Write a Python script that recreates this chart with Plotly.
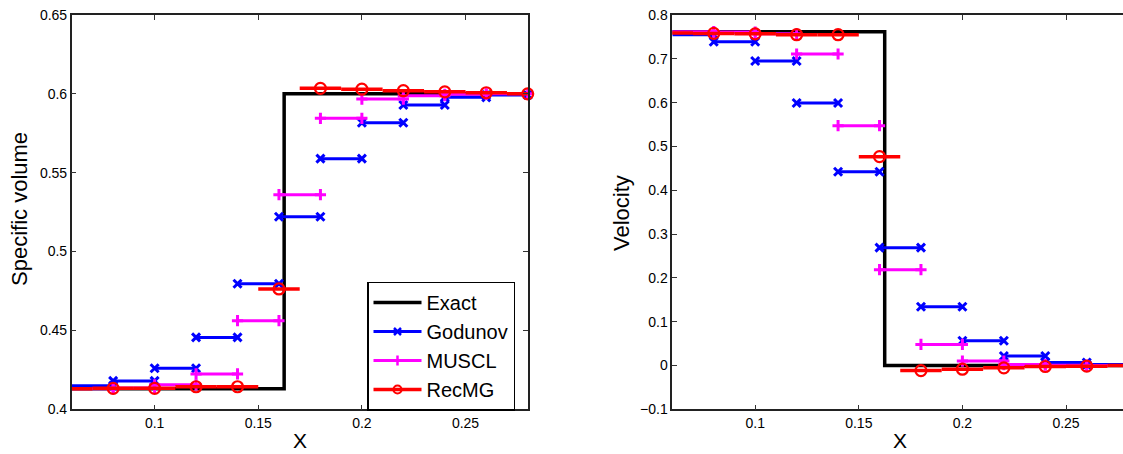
import plotly.graph_objects as go

# ---------------- data ----------------
cell_width = 0.02
# left nodes of the Godunov / MUSCL cells (value held on [node, node+width])
cell_left = [0.06, 0.08, 0.10, 0.12, 0.14, 0.16, 0.18, 0.20, 0.22, 0.24, 0.26]
# centers of RecMG cells (value held on [c-w/2, c+w/2], marker at center)
rec_centers = [0.06, 0.08, 0.10, 0.12, 0.14, 0.16, 0.18, 0.20, 0.22, 0.24, 0.26, 0.28]

exact_x = [0.06, 0.1625, 0.1625, 0.28]
exact_sv = [0.413, 0.413, 0.600, 0.600]
exact_u = [0.762, 0.762, 0.0, 0.0]

godunov_sv = [0.415, 0.418, 0.426, 0.4456, 0.4796, 0.5221, 0.5589, 0.5817, 0.5929, 0.5978, 0.5993]
muscl_sv = [0.413, 0.4135, 0.4155, 0.4224, 0.4562, 0.5361, 0.5845, 0.5967, 0.5988, 0.5997, 0.600]
recmg_sv = [0.413, 0.4133, 0.4133, 0.4143, 0.4143, 0.4763, 0.6035, 0.6030, 0.6020, 0.6013, 0.6007, 0.600]

godunov_u = [0.755, 0.739, 0.695, 0.599, 0.4423, 0.2689, 0.1342, 0.0565, 0.0216, 0.0068, 0.002]
muscl_u = [0.762, 0.761, 0.757, 0.711, 0.5474, 0.2186, 0.0481, 0.0101, 0.002, 0.0005, 0.0]
recmg_u = [0.759, 0.758, 0.757, 0.755, 0.755, 0.4766, -0.0116, -0.0085, -0.0053, -0.0023, -0.0015, 0.0]

x_tickvals = [0.1, 0.15, 0.2, 0.25]
x_ticktext = ["0.1", "0.15", "0.2", "0.25"]
sv_tickvals = [0.4, 0.45, 0.5, 0.55, 0.6, 0.65]
sv_ticktext = ["0.4", "0.45", "0.5", "0.55", "0.6", "0.65"]
u_tickvals = [-0.1, 0, 0.1, 0.2, 0.3, 0.4, 0.5, 0.6, 0.7, 0.8]
u_ticktext = ["\u22120.1", "0", "0.1", "0.2", "0.3", "0.4", "0.5", "0.6", "0.7", "0.8"]

# ---------------- helpers ----------------
FONT = "Liberation Sans, Arial, Helvetica, sans-serif"
BLUE, MAG, RED = "rgb(0,0,255)", "rgb(255,0,255)", "rgb(255,0,0)"
X_MIN = 0.06


def left_segments(lefts, vals, w):
    xs, ys, mx, my = [], [], [], []
    for l, v in zip(lefts, vals):
        xs += [l, l + w, None]
        ys += [v, v, None]
        for p in (l, l + w):
            if p > X_MIN + 1e-9:
                mx.append(p)
                my.append(v)
    return xs, ys, mx, my


def centered_segments(cs, vals, w):
    xs, ys, mx, my = [], [], [], []
    for c, v in zip(cs, vals):
        xs += [c - w / 2, c + w / 2, None]
        ys += [v, v, None]
        if c > X_MIN + 1e-9:
            mx.append(c)
            my.append(v)
    return xs, ys, mx, my


fig = go.Figure()

panels = [
    ("x", "y", exact_sv, godunov_sv, muscl_sv, recmg_sv, True),
    ("x2", "y2", exact_u, godunov_u, muscl_u, recmg_u, False),
]

for xa, ya, ex, gd, mu, rc, show in panels:
    fig.add_trace(go.Scatter(x=exact_x, y=ex, mode="lines", xaxis=xa, yaxis=ya,
                             line=dict(color="black", width=3.5), name="Exact",
                             showlegend=show, legendgroup="exact"))
    for vals, color, sym, name in ((gd, BLUE, "x-thin", "Godunov"),
                                   (mu, MAG, "cross-thin", "MUSCL")):
        xs, ys, mx, my = left_segments(cell_left, vals, cell_width)
        fig.add_trace(go.Scatter(x=xs, y=ys, mode="lines", xaxis=xa, yaxis=ya,
                                 line=dict(color=color, width=3), showlegend=False,
                                 legendgroup=name, name=name))
        fig.add_trace(go.Scatter(x=mx, y=my, mode="markers", xaxis=xa, yaxis=ya,
                                 marker=dict(symbol=sym, size=8, color=color,
                                             line=dict(color=color, width=3)),
                                 cliponaxis=False, showlegend=False,
                                 legendgroup=name, name=name))
        if show:
            fig.add_trace(go.Scatter(x=[None], y=[None], mode="lines+markers",
                                     xaxis=xa, yaxis=ya, name=name, legendgroup=name,
                                     line=dict(color=color, width=3),
                                     marker=dict(symbol=sym, size=7, color=color,
                                                 line=dict(color=color, width=2.5))))
    xs, ys, mx, my = centered_segments(rec_centers, rc, cell_width)
    fig.add_trace(go.Scatter(x=xs, y=ys, mode="lines", xaxis=xa, yaxis=ya,
                             line=dict(color=RED, width=3.5), showlegend=False,
                             legendgroup="RecMG", name="RecMG"))
    fig.add_trace(go.Scatter(x=mx, y=my, mode="markers", xaxis=xa, yaxis=ya,
                             marker=dict(symbol="circle-open", size=11, color=RED,
                                         line=dict(color=RED, width=2.2)),
                             cliponaxis=False, showlegend=False,
                             legendgroup="RecMG", name="RecMG"))
    if show:
        fig.add_trace(go.Scatter(x=[None], y=[None], mode="lines+markers",
                                 xaxis=xa, yaxis=ya, name="RecMG", legendgroup="RecMG",
                                 line=dict(color=RED, width=3.5),
                                 marker=dict(symbol="circle-open", size=8, color=RED,
                                             line=dict(color=RED, width=2.2))))

axis_common = dict(showgrid=False, zeroline=False, ticks="inside", ticklen=5,
                   tickwidth=1, tickcolor="#333", showline=True, linecolor="#222",
                   linewidth=1.5, automargin=False,
                   tickfont=dict(family=FONT, size=14, color="black"))

ydom = [1 - 409.3 / 454, 1 - 15 / 454]

fig.update_layout(
    width=1123, height=454,
    margin=dict(l=0, r=0, t=0, b=0, autoexpand=False),
    paper_bgcolor="white", plot_bgcolor="white",
    font=dict(family=FONT, color="black"),
    xaxis=dict(domain=[71.7 / 1123, 527.7 / 1123], range=[0.06, 0.28], anchor="y",
               tickvals=x_tickvals, ticktext=x_ticktext, mirror="ticks", **axis_common),
    yaxis=dict(domain=ydom, range=[0.4, 0.65], anchor="x",
               tickvals=sv_tickvals, ticktext=sv_ticktext, mirror="ticks", **axis_common),
    xaxis2=dict(domain=[672.3 / 1123, 1.0], range=[0.06, 0.2775], anchor="y2",
                tickvals=x_tickvals, ticktext=x_ticktext, mirror="ticks", **axis_common),
    yaxis2=dict(domain=ydom, range=[-0.1, 0.8], anchor="x2",
                tickvals=u_tickvals, ticktext=u_ticktext, mirror=False, **axis_common),
    legend=dict(x=367 / 1123, y=1 - 346 / 454, xanchor="left", yanchor="middle",
                bgcolor="white", bordercolor="black", borderwidth=1.5,
                font=dict(family=FONT, size=20, color="black"),
                itemwidth=48, tracegroupgap=0, traceorder="normal"),
    showlegend=True,
    annotations=[
        dict(text="X", x=299.7 / 1123, y=1 - 440 / 454, xref="paper", yref="paper",
             xanchor="center", yanchor="middle",
             showarrow=False, font=dict(family=FONT, size=21)),
        dict(text="X", x=899.6 / 1123, y=1 - 440 / 454, xref="paper", yref="paper",
             xanchor="center", yanchor="middle",
             showarrow=False, font=dict(family=FONT, size=21)),
        dict(text="Specific volume", x=19 / 1123, y=1 - 209 / 454, xref="paper",
             yref="paper", xanchor="center", yanchor="middle",
             showarrow=False, textangle=-90,
             font=dict(family=FONT, size=22)),
        dict(text="Velocity", x=621 / 1123, y=1 - 213 / 454, xref="paper",
             yref="paper", xanchor="center", yanchor="middle",
             showarrow=False, textangle=-90,
             font=dict(family=FONT, size=22)),
    ],
)

fig.write_html("out.html")
